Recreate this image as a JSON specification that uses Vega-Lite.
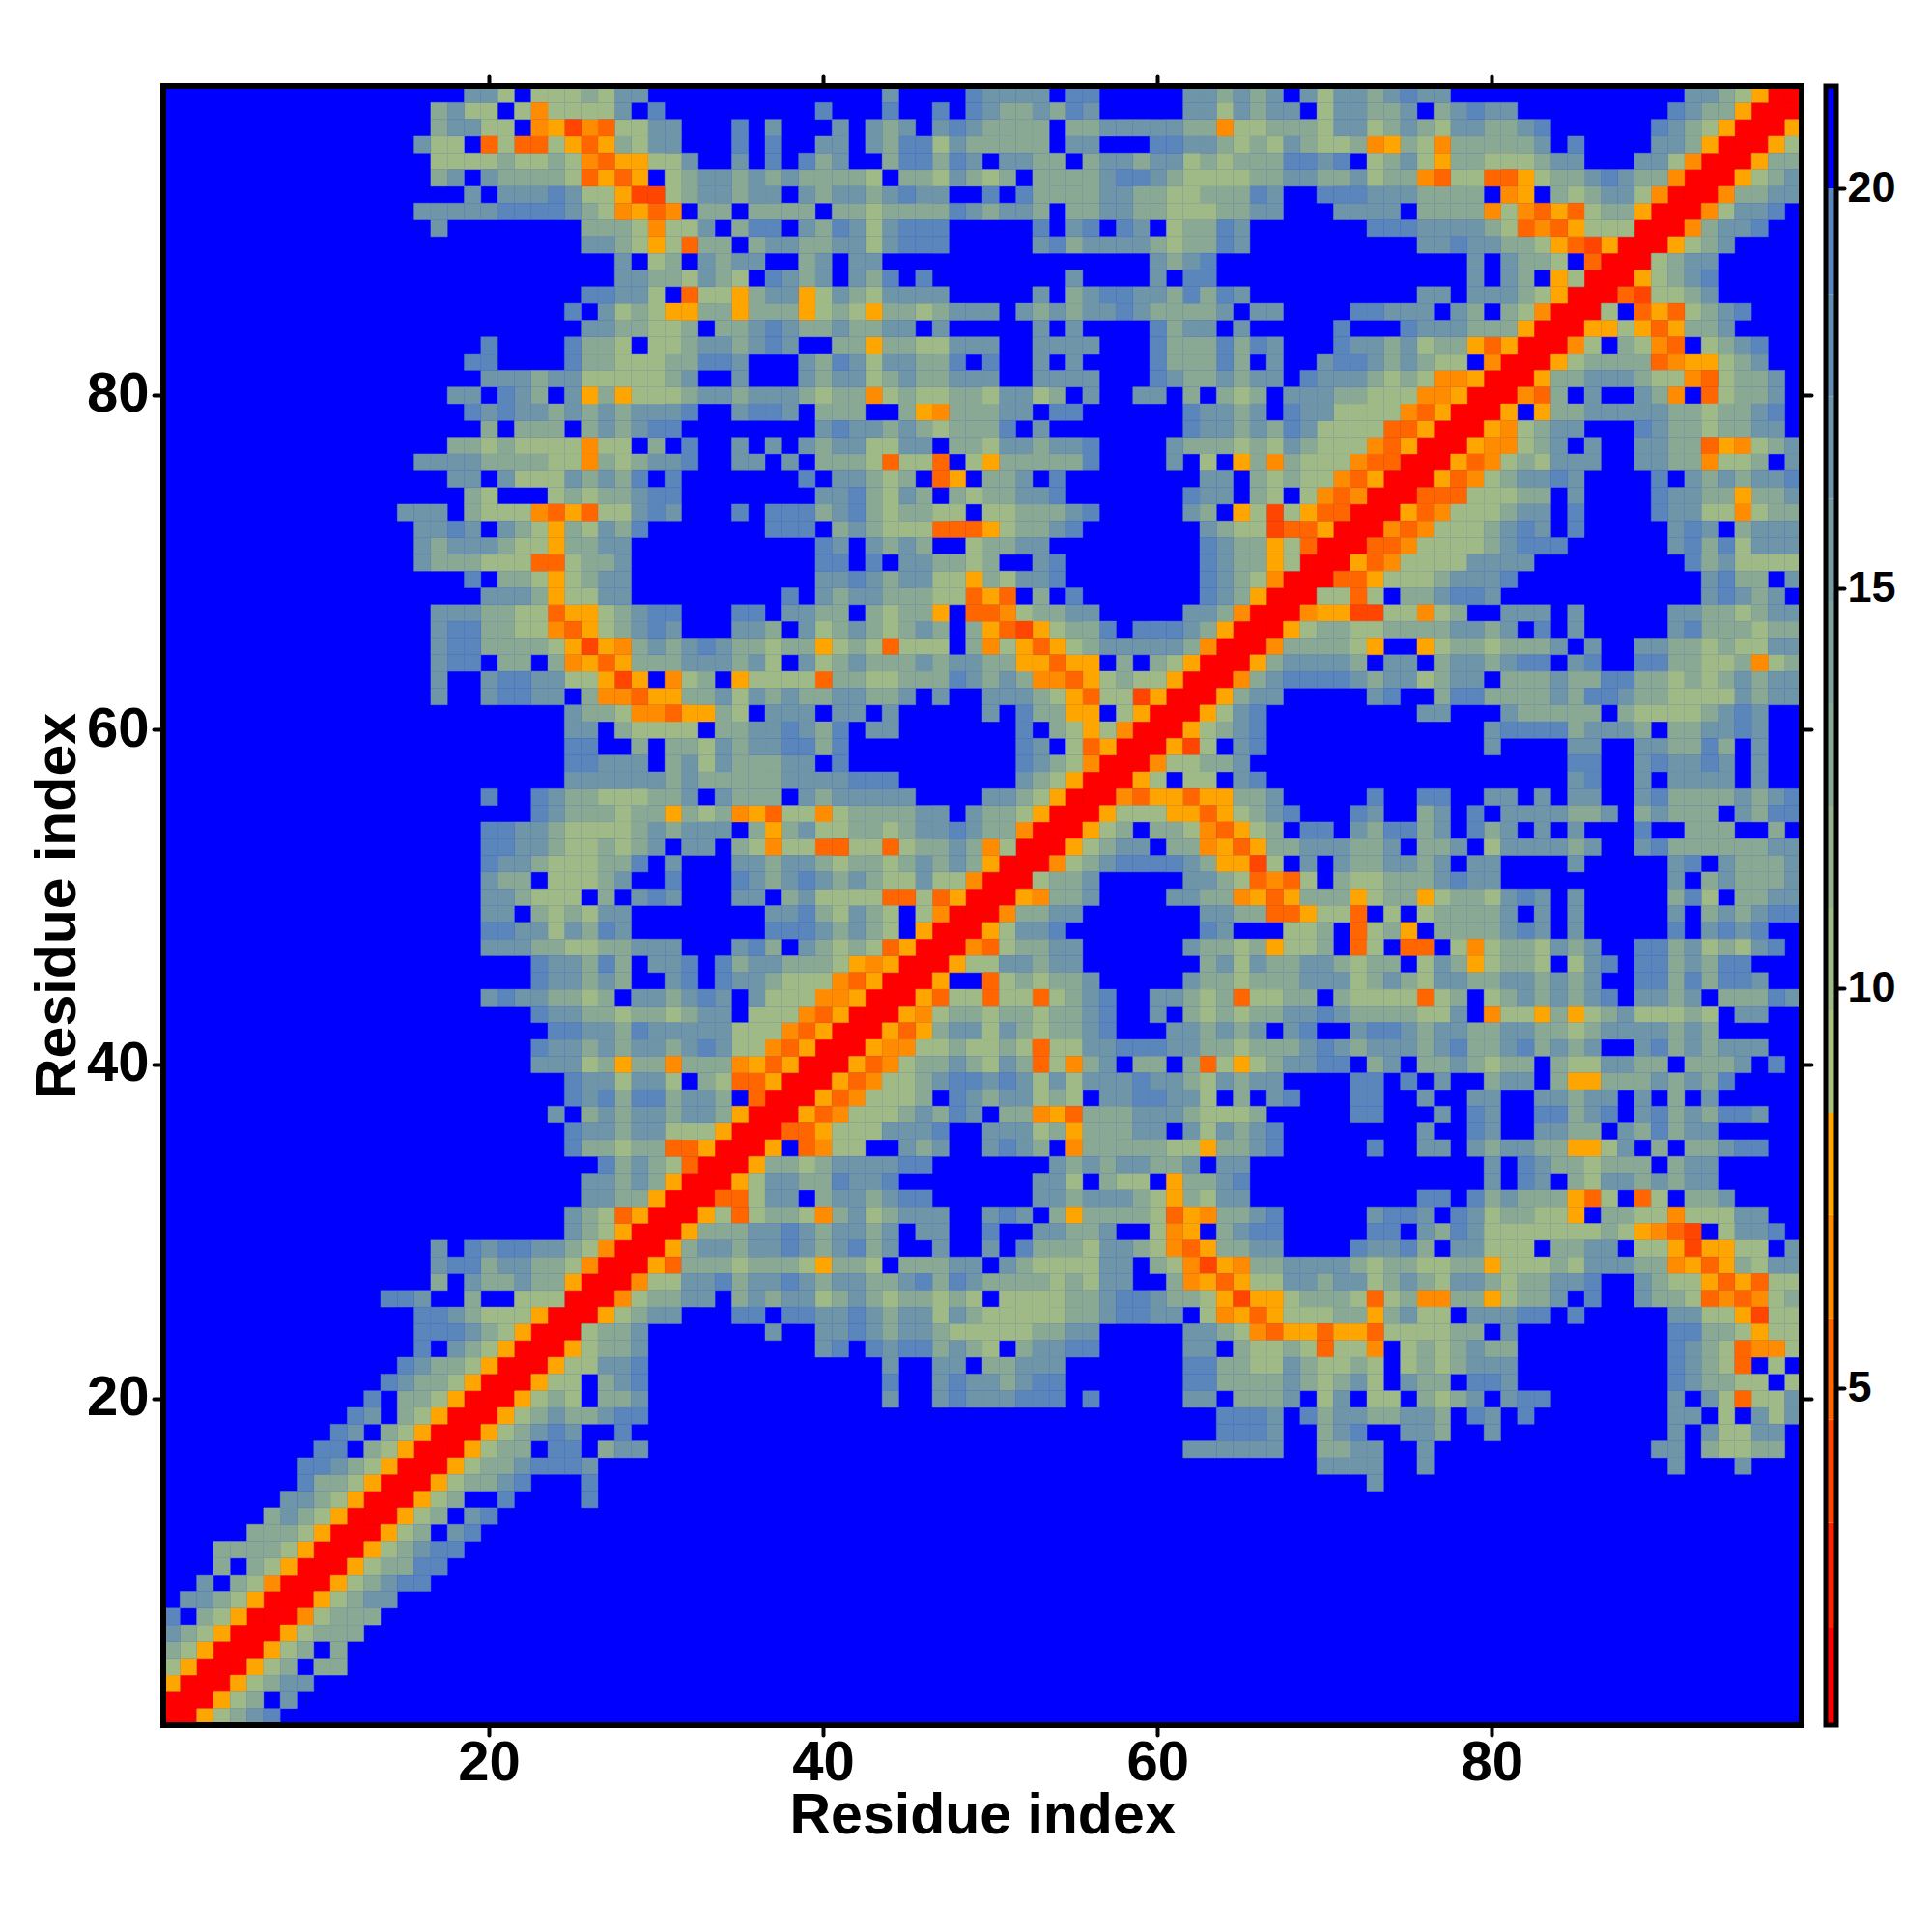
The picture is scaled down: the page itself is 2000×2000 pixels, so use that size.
{"$schema":"https://vega.github.io/schema/vega-lite/v6.json","background":"white","padding":{"left":30,"top":77,"right":0,"bottom":0},"config":{"font":"Liberation Sans","view":{"stroke":null},"axis":{"labelFontWeight":"bold","titleFontWeight":"bold","labelColor":"black","titleColor":"black","tickColor":"black","grid":false,"domain":false,"tickWidth":4,"tickCap":"round"}},"spacing":25,"bounds":"flush","hconcat":[{"width":1696,"height":1697,"view":{"fill":"#0000ff","stroke":null},"data":{"values":[
{"y":98,"d":1,"x":[98]},
{"y":97,"d":1,"x":[97,98]},
{"y":96,"d":1,"x":[96,97]},{"y":96,"d":8,"x":[98]},
{"y":95,"d":1,"x":[95,96]},{"y":95,"d":8,"x":[97]},{"y":95,"d":10,"x":[98]},
{"y":94,"d":1,"x":[94,95]},{"y":94,"d":8,"x":[96]},{"y":94,"d":13,"x":[97,98]},
{"y":93,"d":1,"x":[93,94]},{"y":93,"d":8,"x":[95]},{"y":93,"d":10,"x":[96]},{"y":93,"d":13,"x":[97]},{"y":93,"d":17,"x":[98]},
{"y":92,"d":1,"x":[92,93]},{"y":92,"d":6.5,"x":[94]},{"y":92,"d":13,"x":[95,96]},{"y":92,"d":17,"x":[97,98]},
{"y":91,"d":1,"x":[91,92]},{"y":91,"d":6.5,"x":[93]},{"y":91,"d":10,"x":[94]},{"y":91,"d":17,"x":[95,96]},{"y":91,"d":19,"x":[97]},
{"y":90,"d":1,"x":[90,91]},{"y":90,"d":6.5,"x":[92]},{"y":90,"d":13,"x":[93]},{"y":90,"d":17,"x":[94,95]},{"y":90,"d":19,"x":[96]},
{"y":89,"d":1,"x":[89,90]},{"y":89,"d":8,"x":[91]},{"y":89,"d":10,"x":[92]},{"y":89,"d":13,"x":[93]},{"y":89,"d":17,"x":[94]},
{"y":88,"d":1,"x":[88,89]},{"y":88,"d":10,"x":[90]},{"y":88,"d":13,"x":[91]},{"y":88,"d":17,"x":[92,93]},
{"y":87,"d":1,"x":[87,88]},{"y":87,"d":8,"x":[89]},{"y":87,"d":10,"x":[90]},{"y":87,"d":13,"x":[91]},{"y":87,"d":17,"x":[92]},{"y":87,"d":19,"x":[93]},
{"y":86,"d":1,"x":[86,87]},{"y":86,"d":5,"x":[88]},{"y":86,"d":4,"x":[89]},{"y":86,"d":10,"x":[90,91]},{"y":86,"d":13,"x":[92]},{"y":86,"d":17,"x":[93]},
{"y":85,"d":1,"x":[85,86]},{"y":85,"d":10,"x":[87,92]},{"y":85,"d":5,"x":[89,91]},{"y":85,"d":8,"x":[90]},{"y":85,"d":13,"x":[93]},{"y":85,"d":17,"x":[94]},{"y":85,"d":19,"x":[95]},
{"y":84,"d":1,"x":[84,85]},{"y":84,"d":8,"x":[86,87,89,91]},{"y":84,"d":10,"x":[88]},{"y":84,"d":5,"x":[90]},{"y":84,"d":13,"x":[92,93]},{"y":84,"d":17,"x":[94]},
{"y":83,"d":1,"x":[83,84]},{"y":83,"d":6.5,"x":[85,90]},{"y":83,"d":10,"x":[86,89,93]},{"y":83,"d":13,"x":[88,94]},{"y":83,"d":5,"x":[91]},{"y":83,"d":17,"x":[95]},{"y":83,"d":19,"x":[96]},
{"y":82,"d":1,"x":[82,83]},{"y":82,"d":8,"x":[84,92,93]},{"y":82,"d":10,"x":[85,94]},{"y":82,"d":13,"x":[86,87,88,89,95]},{"y":82,"d":5,"x":[90]},{"y":82,"d":6.5,"x":[91]},{"y":82,"d":17,"x":[96]},
{"y":81,"d":1,"x":[81,82]},{"y":81,"d":8,"x":[83]},{"y":81,"d":13,"x":[84,85,89,95,96]},{"y":81,"d":17,"x":[86,87,88,97]},{"y":81,"d":10,"x":[90,91,94]},{"y":81,"d":6.5,"x":[92]},{"y":81,"d":5,"x":[93]},
{"y":80,"d":1,"x":[80,81]},{"y":80,"d":6.5,"x":[82,91]},{"y":80,"d":5,"x":[83,93]},{"y":80,"d":13,"x":[84,90,95,96]},{"y":80,"d":17,"x":[86,89,97]},{"y":80,"d":10,"x":[94]},
{"y":79,"d":1,"x":[79,80]},{"y":79,"d":8,"x":[81,83]},{"y":79,"d":13,"x":[84,85,91,92,94,95]},{"y":79,"d":17,"x":[86,87,88,89,90,96]},{"y":79,"d":10,"x":[93]},{"y":79,"d":19,"x":[97]},
{"y":78,"d":1,"x":[78,79]},{"y":78,"d":8,"x":[80]},{"y":78,"d":6.5,"x":[81]},{"y":78,"d":10,"x":[82,93]},{"y":78,"d":13,"x":[83,91,92,94,95]},{"y":78,"d":17,"x":[84,85,90,96,97]},{"y":78,"d":19,"x":[89]},
{"y":77,"d":1,"x":[77,78]},{"y":77,"d":8,"x":[79,94]},{"y":77,"d":6.5,"x":[80,81,95]},{"y":77,"d":10,"x":[82,96]},{"y":77,"d":13,"x":[83,91,92,97]},{"y":77,"d":17,"x":[84,86,89,90,98]},{"y":77,"d":5,"x":[93]},
{"y":76,"d":1,"x":[76,77]},{"y":76,"d":8,"x":[78]},{"y":76,"d":5,"x":[79]},{"y":76,"d":6.5,"x":[80,93]},{"y":76,"d":10,"x":[81,83,94,95]},{"y":76,"d":13,"x":[82,91,92,96]},{"y":76,"d":17,"x":[84,85,86,89,90,98]},
{"y":75,"d":1,"x":[75,76]},{"y":75,"d":8,"x":[77]},{"y":75,"d":5,"x":[78]},{"y":75,"d":6.5,"x":[79]},{"y":75,"d":10,"x":[80]},{"y":75,"d":13,"x":[81,93,95]},{"y":75,"d":17,"x":[82,83,85,92,94,96,97]},{"y":75,"d":19,"x":[84,90,98]},
{"y":74,"d":1,"x":[74,75]},{"y":74,"d":5,"x":[76,77,78]},{"y":74,"d":10,"x":[79,80,81]},{"y":74,"d":13,"x":[82,83,93,94,96,97]},{"y":74,"d":17,"x":[85,91,92,98]},{"y":74,"d":19,"x":[90]},{"y":74,"d":8,"x":[95]},
{"y":73,"d":1,"x":[73,74]},{"y":73,"d":8,"x":[75]},{"y":73,"d":5,"x":[76]},{"y":73,"d":6.5,"x":[77,95]},{"y":73,"d":10,"x":[78,79,80,93,94,96]},{"y":73,"d":13,"x":[81,97,98]},{"y":73,"d":17,"x":[82,83,91,92]},{"y":73,"d":19,"x":[85,90]},
{"y":72,"d":1,"x":[72,73]},{"y":72,"d":6.5,"x":[74,76]},{"y":72,"d":5,"x":[75]},{"y":72,"d":10,"x":[77,78,79]},{"y":72,"d":13,"x":[80,95]},{"y":72,"d":17,"x":[81,83,91,93,96,97,98]},{"y":72,"d":19,"x":[82,85,92]},
{"y":71,"d":1,"x":[71,72]},{"y":71,"d":5,"x":[73,74]},{"y":71,"d":6.5,"x":[75]},{"y":71,"d":10,"x":[76,77,78,79,95]},{"y":71,"d":13,"x":[80,93]},{"y":71,"d":17,"x":[81,91,96,97,98]},{"y":71,"d":19,"x":[82,83,84,92,94]},
{"y":70,"d":1,"x":[70,71]},{"y":70,"d":8,"x":[72]},{"y":70,"d":5,"x":[73]},{"y":70,"d":6.5,"x":[74]},{"y":70,"d":10,"x":[75,76,77,78,95,96,97,98]},{"y":70,"d":17,"x":[79,80,81,82,94]},{"y":70,"d":19,"x":[92]},{"y":70,"d":13,"x":[93]},
{"y":69,"d":1,"x":[69,70]},{"y":69,"d":5,"x":[71,72]},{"y":69,"d":8,"x":[73]},{"y":69,"d":10,"x":[74,75,76]},{"y":69,"d":13,"x":[77,95,96]},{"y":69,"d":17,"x":[78,79,80,93,98]},{"y":69,"d":19,"x":[81,94]},
{"y":68,"d":1,"x":[68,69]},{"y":68,"d":10,"x":[70,71,73]},{"y":68,"d":5,"x":[72]},{"y":68,"d":13,"x":[75,76,96]},{"y":68,"d":17,"x":[77,80,93,95,97]},{"y":68,"d":19,"x":[78,79,94]},
{"y":67,"d":1,"x":[67,68]},{"y":67,"d":6.5,"x":[69,76]},{"y":67,"d":8,"x":[70,71]},{"y":67,"d":4,"x":[72,73]},{"y":67,"d":10,"x":[74,75,77,95]},{"y":67,"d":13,"x":[78,93,94,96]},{"y":67,"d":17,"x":[81,82,83,85,91,92,97,98]},
{"y":66,"d":1,"x":[66,67]},{"y":66,"d":8,"x":[68]},{"y":66,"d":10,"x":[69,72,73,96]},{"y":66,"d":13,"x":[70,71,74,75,76,77,80,93,94,95,97,98]},{"y":66,"d":17,"x":[78,79,81,85,91]},{"y":66,"d":19,"x":[83,92]},
{"y":65,"d":1,"x":[65,66]},{"y":65,"d":6.5,"x":[67]},{"y":65,"d":13,"x":[68,69,70,71,78,79,81,82,83,91,92,94]},{"y":65,"d":10,"x":[72,77,80,93,95,96]},{"y":65,"d":8,"x":[73,76]},{"y":65,"d":17,"x":[84,86,89,90,97,98]},
{"y":64,"d":1,"x":[64,65]},{"y":64,"d":8,"x":[66]},{"y":64,"d":13,"x":[67,72,77,80,91,92,95,98]},{"y":64,"d":17,"x":[68,69,70,71,74,75,78,79,81,85]},{"y":64,"d":19,"x":[82,83,86,89,90]},{"y":64,"d":10,"x":[93,94,97]},{"y":64,"d":6.5,"x":[96]},
{"y":63,"d":1,"x":[63,64]},{"y":63,"d":6.5,"x":[65]},{"y":63,"d":13,"x":[66,73,77,81,82,83,85,86,89,90,92,94,96]},{"y":63,"d":17,"x":[67,72,74,75,78,79,84,95,97,98]},{"y":63,"d":19,"x":[68,69,70,71,87,88]},{"y":63,"d":10,"x":[76,91,93]},
{"y":62,"d":1,"x":[62,63]},{"y":62,"d":8,"x":[64]},{"y":62,"d":13,"x":[65,77,80,81,82,83,85,89,90,96]},{"y":62,"d":17,"x":[66,67,73,84,88,95,97,98]},{"y":62,"d":19,"x":[74,78,79,86,87]},{"y":62,"d":10,"x":[91,92,93,94]},
{"y":61,"d":1,"x":[61,62]},{"y":61,"d":8,"x":[63]},{"y":61,"d":10,"x":[64,89,90,91,92]},{"y":61,"d":17,"x":[65,76,77,81,94,96]},{"y":61,"d":19,"x":[66,95]},{"y":61,"d":13,"x":[82,83,84,85,86,88,93]},
{"y":60,"d":1,"x":[60,61]},{"y":60,"d":8,"x":[62]},{"y":60,"d":10,"x":[63]},{"y":60,"d":13,"x":[64,85,89,91,92]},{"y":60,"d":17,"x":[65,80,86,87,88,93,94,96]},{"y":60,"d":19,"x":[66,81,82,83,84,95]},
{"y":59,"d":1,"x":[59,60]},{"y":59,"d":8,"x":[61]},{"y":59,"d":4,"x":[62]},{"y":59,"d":10,"x":[63]},{"y":59,"d":17,"x":[65,80,85,86,89,90,96]},{"y":59,"d":19,"x":[66,93]},{"y":59,"d":13,"x":[91,92,94]},
{"y":58,"d":1,"x":[58,59]},{"y":58,"d":6.5,"x":[60]},{"y":58,"d":10,"x":[61,62]},{"y":58,"d":13,"x":[63,64]},{"y":58,"d":17,"x":[65,89,91,92,94,96]},{"y":58,"d":19,"x":[85,86,90,93]},
{"y":57,"d":1,"x":[57,58]},{"y":57,"d":8,"x":[59]},{"y":57,"d":10,"x":[60,62,63]},{"y":57,"d":17,"x":[65,85,89,91,92,93,94,96]},{"y":57,"d":19,"x":[66,86]},
{"y":56,"d":1,"x":[56,57]},{"y":56,"d":6.5,"x":[58]},{"y":56,"d":5,"x":[59,62]},{"y":56,"d":8,"x":[60,61,63,64]},{"y":56,"d":13,"x":[65,66,91,92,93,94,96]},{"y":56,"d":17,"x":[67,80,81,83,85,86,89,95,97]},{"y":56,"d":19,"x":[73,76,77,90,98]},
{"y":55,"d":1,"x":[55,56]},{"y":55,"d":8,"x":[57,61,62,64]},{"y":55,"d":10,"x":[58,59,60,65]},{"y":55,"d":5,"x":[63]},{"y":55,"d":13,"x":[66,76,85,86,89,91,92,93,96]},{"y":55,"d":17,"x":[67,73,77,81,82,83,84,87,90,95]},{"y":55,"d":19,"x":[68,72,79,97,98]},
{"y":54,"d":1,"x":[54,55]},{"y":54,"d":8,"x":[56,65]},{"y":54,"d":10,"x":[57,62,66]},{"y":54,"d":13,"x":[58,60,61,67,73,76,80,92,93,94,97]},{"y":54,"d":6.5,"x":[63]},{"y":54,"d":5,"x":[64]},{"y":54,"d":17,"x":[72,77,81,83,85]},{"y":54,"d":19,"x":[69,70,74,75,79,89]},
{"y":53,"d":1,"x":[53,54]},{"y":53,"d":8,"x":[55,64,66]},{"y":53,"d":10,"x":[56,80]},{"y":53,"d":13,"x":[57,61,62,67,68,72,73,76,77,85,91,92,93,94,95,96]},{"y":53,"d":17,"x":[58,59,69,70,71,74,78,81,82,83,84,86,89,97,98]},{"y":53,"d":6.5,"x":[63]},{"y":53,"d":5,"x":[65]},{"y":53,"d":19,"x":[90]},
{"y":52,"d":1,"x":[52,53]},{"y":52,"d":6.5,"x":[54]},{"y":52,"d":10,"x":[55,67]},{"y":52,"d":13,"x":[56,63,72,73,76,95,96,97]},{"y":52,"d":17,"x":[57,62,69,71,74,75,77,79,80,85,91,94,98]},{"y":52,"d":19,"x":[58,59,60,61,92]},{"y":52,"d":8,"x":[64,65]},{"y":52,"d":4,"x":[66]},
{"y":51,"d":1,"x":[51,52]},{"y":51,"d":10,"x":[53,65,69,72,73]},{"y":51,"d":13,"x":[54,55,64,71,74,75,76,93,95,96,97]},{"y":51,"d":17,"x":[56,62,63,77,79,80,91,94,98]},{"y":51,"d":5,"x":[66,68]},{"y":51,"d":6.5,"x":[67]},{"y":51,"d":19,"x":[78]},
{"y":50,"d":1,"x":[50,51]},{"y":50,"d":8,"x":[52,66,68,72,76]},{"y":50,"d":6.5,"x":[53,65]},{"y":50,"d":13,"x":[54,55,63,64,69,70,71,74,75,78,79,91,95,96]},{"y":50,"d":17,"x":[56,61,62,81,83,85,97,98]},{"y":50,"d":5,"x":[67]},{"y":50,"d":10,"x":[73,77,80,93]},{"y":50,"d":19,"x":[82,92]},
{"y":49,"d":1,"x":[49,50]},{"y":49,"d":6.5,"x":[51]},{"y":49,"d":13,"x":[52,53,65,66,77,78,79,80,93,95]},{"y":49,"d":17,"x":[54,55,63,64,81,83,85,91,94,96]},{"y":49,"d":5,"x":[67,68,72]},{"y":49,"d":8,"x":[69]},{"y":49,"d":10,"x":[70,71,74,76]},{"y":49,"d":19,"x":[97,98]},
{"y":48,"d":1,"x":[48,49]},{"y":48,"d":8,"x":[50,75]},{"y":48,"d":10,"x":[51,68,69,73]},{"y":48,"d":13,"x":[70,74,77,78,79,80]},{"y":48,"d":17,"x":[52,53,64,81,83,85,93,95]},{"y":48,"d":19,"x":[54,63,82,91,94,96]},{"y":48,"d":5,"x":[72]},
{"y":47,"d":1,"x":[47,48]},{"y":47,"d":6.5,"x":[49,79]},{"y":47,"d":5,"x":[50,72,75,76]},{"y":47,"d":10,"x":[51,65,68,69,73,78,80,83,93,95]},{"y":47,"d":13,"x":[52,53,63,64,66,70,81,82,85,91,94]},{"y":47,"d":17,"x":[54,55,62,84,86,92,96]},{"y":47,"d":8,"x":[67]},{"y":47,"d":19,"x":[89,90,97]},
{"y":46,"d":1,"x":[46,47]},{"y":46,"d":8,"x":[48,79]},{"y":46,"d":10,"x":[49,50,65,72,76,80,83,85]},{"y":46,"d":17,"x":[51,52,54,55,64,66,69,70,77,86,92]},{"y":46,"d":13,"x":[53,63,67,68,71,73,74,78,81,82,91,93]},{"y":46,"d":19,"x":[87,89,90,94,95]},
{"y":45,"d":1,"x":[45,46]},{"y":45,"d":8,"x":[47]},{"y":45,"d":5,"x":[50]},{"y":45,"d":10,"x":[51,53,65,72,76]},{"y":45,"d":13,"x":[52,54,55,63,64,66,67,68,73,75,79,80,83,85,91,93]},{"y":45,"d":17,"x":[56,62,69,70,71,74,77,78,81,82,84,86,96]},{"y":45,"d":19,"x":[89,90,92,94,95]},
{"y":44,"d":1,"x":[44,45]},{"y":44,"d":8,"x":[46]},{"y":44,"d":5,"x":[47,50,53,65,76]},{"y":44,"d":10,"x":[48,49,51,52,54,63,66,67,72,73,74,75,77,80]},{"y":44,"d":13,"x":[55,62,64,68,69,71,78,81,83,85,91,94,95,96]},{"y":44,"d":17,"x":[56,60,61,82,84,86,89,90,92,98]},{"y":44,"d":19,"x":[57,87,97]},
{"y":43,"d":1,"x":[43,44]},{"y":43,"d":8,"x":[45,83,85]},{"y":43,"d":6.5,"x":[46,80]},{"y":43,"d":10,"x":[47,50,53,63,65,76,77,81,82,86,89,90,91,93]},{"y":43,"d":13,"x":[48,49,51,52,54,55,62,64,66,67,72,73,74,75,84,87,92]},{"y":43,"d":17,"x":[56,60,68,69,71,78,88,95,96]},{"y":43,"d":19,"x":[57,70]},
{"y":42,"d":1,"x":[42,43]},{"y":42,"d":8,"x":[44,46]},{"y":42,"d":5,"x":[45]},{"y":42,"d":13,"x":[47,52,54,55,63,65,76,79,80,83,84,86,91,93]},{"y":42,"d":17,"x":[48,49,51,56,61,62,64,66,68,72,75,77,78,81,82,87,88,89,90,92]},{"y":42,"d":10,"x":[50,53,85]},{"y":42,"d":19,"x":[57,69,73,74]},
{"y":41,"d":1,"x":[41,42]},{"y":41,"d":8,"x":[43]},{"y":41,"d":6.5,"x":[44,45]},{"y":41,"d":10,"x":[46,47,49,50,52,54,55,65]},{"y":41,"d":13,"x":[48,51,63,64,66,67,68,72,76,79,80,83,85,91,93]},{"y":41,"d":17,"x":[56,57,61,62,69,71,73,74,75,77,81,84,86,89,92,94,95,96]},{"y":41,"d":19,"x":[58,59,60,70,78,82,90]},{"y":41,"d":5,"x":[53]},
{"y":40,"d":1,"x":[40,41]},{"y":40,"d":8,"x":[42,65]},{"y":40,"d":5,"x":[43,53,63]},{"y":40,"d":6.5,"x":[44,55]},{"y":40,"d":10,"x":[45,50,54,64,66,80,85,86]},{"y":40,"d":13,"x":[46,47,49,52,56,59,60,62,67,73,76,77,79,81,82,84,89,90,92,93,94]},{"y":40,"d":17,"x":[48,51,57,68,69,74,78,87,88,95]},{"y":40,"d":19,"x":[70,71,97]},
{"y":39,"d":1,"x":[39,40]},{"y":39,"d":8,"x":[41,85,86]},{"y":39,"d":5,"x":[42]},{"y":39,"d":6.5,"x":[43]},{"y":39,"d":10,"x":[44,45,53,55,63]},{"y":39,"d":13,"x":[46,62,65,80,84,87,88,89,91,93]},{"y":39,"d":17,"x":[47,50,52,54,56,57,58,60,61,64,66,67,77,81,82,90,92]},{"y":39,"d":19,"x":[48,49,51,59,72,73,75,94]},
{"y":38,"d":1,"x":[38,39]},{"y":38,"d":8,"x":[40]},{"y":38,"d":5,"x":[41]},{"y":38,"d":6.5,"x":[42]},{"y":38,"d":10,"x":[43,44,45,53,55,63]},{"y":38,"d":13,"x":[46,50,54,65,85,91]},{"y":38,"d":17,"x":[49,51,52,57,58,61,62,67,76,79,80,83,84,86,87,89,93]},{"y":38,"d":19,"x":[48,59,60,68,72,73]},
{"y":37,"d":1,"x":[37,38]},{"y":37,"d":8,"x":[39,54]},{"y":37,"d":5,"x":[40,55]},{"y":37,"d":6.5,"x":[41,53]},{"y":37,"d":10,"x":[42,43,44,63,64,65]},{"y":37,"d":13,"x":[45,47,51,52,56,57,58,62,66,85,91,93]},{"y":37,"d":17,"x":[46,49,59,60,61,77,80,86,89,92,96]},{"y":37,"d":19,"x":[48,72,73,79,83,84,87,90,94,95]},
{"y":36,"d":1,"x":[36,37]},{"y":36,"d":5,"x":[38,39]},{"y":36,"d":8,"x":[40,55]},{"y":36,"d":10,"x":[41,42,43,53,63]},{"y":36,"d":13,"x":[54,56,57,58,65,85,86,89,91]},{"y":36,"d":17,"x":[44,45,46,50,51,52,59,60,62,64,66,76,80,83,84,88,92,93]},{"y":36,"d":19,"x":[47,67,79,90]},
{"y":35,"d":1,"x":[35,36]},{"y":35,"d":8,"x":[37,63,85,86]},{"y":35,"d":5,"x":[39]},{"y":35,"d":6.5,"x":[40,55]},{"y":35,"d":10,"x":[41,42,61,62,87]},{"y":35,"d":13,"x":[46,53,56,57,58,59,60,64,65,80,83,84,90,92,93]},{"y":35,"d":17,"x":[45,47,50,52,66,76,77,79,81,82,88,94]},{"y":35,"d":19,"x":[51,67,73,95,96]},
{"y":34,"d":1,"x":[34,35]},{"y":34,"d":8,"x":[36]},{"y":34,"d":13,"x":[37,38,40,55,57,60,61,84,85,87,88,89,91]},{"y":34,"d":10,"x":[39,86]},{"y":34,"d":17,"x":[41,42,43,44,54,56,58,59,62,64,65,80,83,92,93]},{"y":34,"d":19,"x":[45,46,82]},
{"y":33,"d":1,"x":[33,34]},{"y":33,"d":8,"x":[35,61]},{"y":33,"d":10,"x":[36,55,58,59,86]},{"y":33,"d":17,"x":[37,38,42,43,53,54,64,80,83,87,88,90,92,93]},{"y":33,"d":13,"x":[39,40,57,62,63,85,89,91]},{"y":33,"d":19,"x":[41,44,65,82]},
{"y":32,"d":1,"x":[32,33]},{"y":32,"d":5,"x":[34,35,86,89]},{"y":32,"d":10,"x":[36,60,63,87,90]},{"y":32,"d":17,"x":[37,38,41,42,44,53,54,56,57,58,64,65,81,94]},{"y":32,"d":13,"x":[40,43,55,59,62,80,82,83,84,92,93]},{"y":32,"d":8,"x":[61,85]},{"y":32,"d":19,"x":[45,46,76,77,79]},
{"y":31,"d":1,"x":[31,32]},{"y":31,"d":8,"x":[33,55,62,85]},{"y":31,"d":10,"x":[34,36,39,43,60,80,83,84,89,90,92,93,94]},{"y":31,"d":5,"x":[35,61]},{"y":31,"d":13,"x":[37,38,41,44,54,56,57,58,59,64,65,81,82,87,88]},{"y":31,"d":6.5,"x":[40,63,91]},{"y":31,"d":17,"x":[42,45,46,47,50,52,66,73,76,79,95,96]},{"y":31,"d":19,"x":[51,67,74,75,78]},
{"y":30,"d":1,"x":[30,31]},{"y":30,"d":8,"x":[32,62,89]},{"y":30,"d":13,"x":[33,34,35,40,43,55,56,64,77,87]},{"y":30,"d":17,"x":[36,37,39,41,42,44,46,47,53,54,57,65,76,79,95,96]},{"y":30,"d":19,"x":[38,50,66,67,73,74,78,97]},{"y":30,"d":10,"x":[60,80,81,82,83,84,85,86,88,94]},{"y":30,"d":6.5,"x":[61,90]},{"y":30,"d":5,"x":[91]},{"y":30,"d":4,"x":[92]},
{"y":29,"d":1,"x":[29,30]},{"y":29,"d":8,"x":[31,63,91,93,94]},{"y":29,"d":13,"x":[32,35,40,43,53,54,55,59,64,65,76,84,85]},{"y":29,"d":17,"x":[33,34,36,37,39,41,44,47,50,57,58,66,67,73,74,78,79,86,87,98]},{"y":29,"d":19,"x":[38,42,52,72,75]},{"y":29,"d":10,"x":[56,60,80,81,82,89,90,95,96]},{"y":29,"d":6.5,"x":[61]},{"y":29,"d":5,"x":[62]},{"y":29,"d":4,"x":[92]},
{"y":28,"d":1,"x":[28,29]},{"y":28,"d":8,"x":[30,40,64,80,92,94]},{"y":28,"d":5,"x":[31,93]},{"y":28,"d":13,"x":[32,33,34,36,37,38,41,42,45,46,47,52,60,66,67,72,74,75,78,79,84,89,90,95]},{"y":28,"d":10,"x":[35,39,43,53,54,55,56,61,73,76,77,81,82,83,85,96]},{"y":28,"d":17,"x":[48,49,51,57,58,68,69,70,71,86,87,88,97,98]},{"y":28,"d":6.5,"x":[62,65,91]},{"y":28,"d":4,"x":[63]},
{"y":27,"d":1,"x":[27,28]},{"y":27,"d":6.5,"x":[29,62]},{"y":27,"d":10,"x":[30,31,54,56,66,67,73,77,81,91,92,97,98]},{"y":27,"d":13,"x":[35,40,43,44,47,50,51,52,53,55,61,70,74,76,80,82,83,90]},{"y":27,"d":17,"x":[32,33,36,37,39,41,42,45,49,57,58,68,69,71,72,75,78,79,84,85,89]},{"y":27,"d":19,"x":[34,38,46,48,86]},{"y":27,"d":8,"x":[63,65,93,95]},{"y":27,"d":5,"x":[64,94,96]},
{"y":26,"d":1,"x":[26,27]},{"y":26,"d":6.5,"x":[28,76,77,94,96]},{"y":26,"d":10,"x":[29,40,44,47,49,51,52,53,54,63,68,72,74,81,92,97]},{"y":26,"d":13,"x":[30,31,35,37,41,43,45,46,48,55,56,61,62,69,70,71,75,78,79,82,83,90,91,98]},{"y":26,"d":17,"x":[32,33,36,38,39,42,57,60,84,89]},{"y":26,"d":19,"x":[58,59,86]},{"y":26,"d":8,"x":[64,66,67,80]},{"y":26,"d":4,"x":[65]},{"y":26,"d":5,"x":[73,93,95]},
{"y":25,"d":1,"x":[25,26]},{"y":25,"d":8,"x":[27,65,67,73,95]},{"y":25,"d":10,"x":[28,47,50,51,52,53,54,63,68,69,70,76,77,93,94,97,98]},{"y":25,"d":13,"x":[29,44,49,55,56,71,72,74]},{"y":25,"d":17,"x":[30,31,40,41,43,45,46,48,57,60,61,75,79,80,81,91,92]},{"y":25,"d":19,"x":[35,36,38,39,42,58,59,82,83,85]},{"y":25,"d":6.5,"x":[64]},{"y":25,"d":5,"x":[66]},{"y":25,"d":4,"x":[96]},
{"y":24,"d":1,"x":[24,25]},{"y":24,"d":10,"x":[26,48,49,50,51,52,65,74,75,76,77,95,97,98]},{"y":24,"d":13,"x":[27,28,44,47,53,54,64,78,79,93,94]},{"y":24,"d":17,"x":[29,37,40,41,43,45,46,55,56,62,63,81]},{"y":24,"d":19,"x":[42,91,92]},{"y":24,"d":6.5,"x":[66]},{"y":24,"d":5,"x":[67,70,73]},{"y":24,"d":8,"x":[68,69,71,72,96]},
{"y":23,"d":1,"x":[23,24]},{"y":23,"d":8,"x":[25]},{"y":23,"d":10,"x":[26,50,66,67,69,71,72,75,77,94,98]},{"y":23,"d":13,"x":[27,28,47,49,52,65,68,76,78,80,81,93]},{"y":23,"d":17,"x":[29,40,44,48,53,54,62,63,79,92]},{"y":23,"d":19,"x":[41,43,45,46,55,56,91]},{"y":23,"d":5,"x":[70,95]},{"y":23,"d":6.5,"x":[73,96,97]},
{"y":22,"d":1,"x":[22,23]},{"y":22,"d":8,"x":[24]},{"y":22,"d":10,"x":[25,26,66,67,70,71,73,75,77,94,97]},{"y":22,"d":13,"x":[50,51,64,65,69,72,76,78,93]},{"y":22,"d":17,"x":[27,28,44,47,48,52,53,54,68,79,80,81,92]},{"y":22,"d":19,"x":[29,62,63,91]},{"y":22,"d":5,"x":[95]},
{"y":21,"d":1,"x":[21,22]},{"y":21,"d":8,"x":[23]},{"y":21,"d":10,"x":[24,25,70,73,95,96,98]},{"y":21,"d":13,"x":[27,51,64,65,66,67,69,71,76,77,93,94]},{"y":21,"d":17,"x":[28,47,49,50,52,68,72,75,81,92]},{"y":21,"d":19,"x":[29,44,48,53,54,62,63,79,80,91]},
{"y":20,"d":1,"x":[20,21]},{"y":20,"d":8,"x":[22]},{"y":20,"d":10,"x":[23,25,70,73,74,77,94,96,97]},{"y":20,"d":13,"x":[24,27,28,65,66,67,76,78]},{"y":20,"d":17,"x":[29,44,47,49,50,51,62,63,68,71,79,81,91,93,98]},{"y":20,"d":19,"x":[48,52,53,54,56,82,83]},{"y":20,"d":5,"x":[95]},
{"y":19,"d":1,"x":[19,20]},{"y":19,"d":8,"x":[21]},{"y":19,"d":10,"x":[22,94,97]},{"y":19,"d":13,"x":[23,25,26,70,73,74,77]},{"y":19,"d":17,"x":[24,27,67,71,72,75,76,80,91,92,96,98]},{"y":19,"d":19,"x":[28,29,64,65,66,69,79,82]},
{"y":18,"d":1,"x":[18,19]},{"y":18,"d":8,"x":[20]},{"y":18,"d":10,"x":[21,94,95]},{"y":18,"d":13,"x":[22,70,77]},{"y":18,"d":17,"x":[23,25,67,71,75,76,80,91,93,96,97]},{"y":18,"d":19,"x":[24,28,64,65,66,72]},
{"y":17,"d":1,"x":[17,18]},{"y":17,"d":8,"x":[19]},{"y":17,"d":10,"x":[20,94,95]},{"y":17,"d":13,"x":[21,22,27,70,71,93,96,97]},{"y":17,"d":17,"x":[28,29,62,63,64,65,66,67,72,73,76,90,91]},{"y":17,"d":19,"x":[24,25]},
{"y":16,"d":1,"x":[16,17]},{"y":16,"d":8,"x":[18]},{"y":16,"d":10,"x":[19]},{"y":16,"d":13,"x":[20,21]},{"y":16,"d":17,"x":[22,26,70,71,72,73,76,91,95]},{"y":16,"d":19,"x":[23,24,25]},
{"y":15,"d":1,"x":[15,16]},{"y":15,"d":8,"x":[17]},{"y":15,"d":10,"x":[18]},{"y":15,"d":13,"x":[19,20]},{"y":15,"d":17,"x":[21,73]},{"y":15,"d":19,"x":[22,26]},
{"y":14,"d":1,"x":[14,15]},{"y":14,"d":8,"x":[16]},{"y":14,"d":10,"x":[17]},{"y":14,"d":13,"x":[18]},{"y":14,"d":19,"x":[21,26]},
{"y":13,"d":1,"x":[13,14]},{"y":13,"d":8,"x":[15]},{"y":13,"d":10,"x":[16]},{"y":13,"d":13,"x":[17]},{"y":13,"d":17,"x":[19]},{"y":13,"d":19,"x":[20]},
{"y":12,"d":1,"x":[12,13]},{"y":12,"d":8,"x":[14]},{"y":12,"d":10,"x":[15]},{"y":12,"d":13,"x":[16]},{"y":12,"d":17,"x":[18]},{"y":12,"d":19,"x":[19]},
{"y":11,"d":1,"x":[11,12]},{"y":11,"d":8,"x":[13]},{"y":11,"d":10,"x":[14]},{"y":11,"d":13,"x":[15]},{"y":11,"d":17,"x":[16]},{"y":11,"d":19,"x":[17,18]},
{"y":10,"d":1,"x":[10,11]},{"y":10,"d":8,"x":[12]},{"y":10,"d":10,"x":[13]},{"y":10,"d":13,"x":[14,15]},{"y":10,"d":19,"x":[16,17]},
{"y":9,"d":1,"x":[9,10]},{"y":9,"d":8,"x":[11]},{"y":9,"d":10,"x":[12]},{"y":9,"d":13,"x":[13]},{"y":9,"d":17,"x":[14]},{"y":9,"d":19,"x":[15,16]},
{"y":8,"d":1,"x":[8,9]},{"y":8,"d":8,"x":[10]},{"y":8,"d":10,"x":[11]},{"y":8,"d":13,"x":[12]},{"y":8,"d":17,"x":[13,14]},
{"y":7,"d":1,"x":[7,8]},{"y":7,"d":6.5,"x":[9]},{"y":7,"d":10,"x":[10]},{"y":7,"d":13,"x":[11,12,13]},
{"y":6,"d":1,"x":[6,7]},{"y":6,"d":8,"x":[8]},{"y":6,"d":10,"x":[9]},{"y":6,"d":13,"x":[10,11,12]},
{"y":5,"d":1,"x":[5,6]},{"y":5,"d":8,"x":[7]},{"y":5,"d":10,"x":[8]},{"y":5,"d":13,"x":[9,11]},
{"y":4,"d":1,"x":[4,5]},{"y":4,"d":8,"x":[6]},{"y":4,"d":10,"x":[7]},{"y":4,"d":13,"x":[8,10,11]},
{"y":3,"d":1,"x":[3,4]},{"y":3,"d":8,"x":[5]},{"y":3,"d":10,"x":[6]},{"y":3,"d":13,"x":[7]},{"y":3,"d":17,"x":[8,9]},
{"y":2,"d":1,"x":[2,3]},{"y":2,"d":8,"x":[4]},{"y":2,"d":10,"x":[5]},{"y":2,"d":13,"x":[6]},{"y":2,"d":17,"x":[8]},
{"y":1,"d":1,"x":[1,2]},{"y":1,"d":8,"x":[3]},{"y":1,"d":10,"x":[4]},{"y":1,"d":13,"x":[5]},{"y":1,"d":17,"x":[6]},{"y":1,"d":19,"x":[7]}
]},"transform":[{"flatten":["x"]}],"resolve":{"axis":{"x":"independent","y":"independent"}},"layer":[
{"mark":{"type":"rect","strokeWidth":0.4},"encoding":{
"x":{"field":"x","type":"ordinal","scale":{"paddingInner":0,"paddingOuter":0,"domain":[1,2,3,4,5,6,7,8,9,10,11,12,13,14,15,16,17,18,19,20,21,22,23,24,25,26,27,28,29,30,31,32,33,34,35,36,37,38,39,40,41,42,43,44,45,46,47,48,49,50,51,52,53,54,55,56,57,58,59,60,61,62,63,64,65,66,67,68,69,70,71,72,73,74,75,76,77,78,79,80,81,82,83,84,85,86,87,88,89,90,91,92,93,94,95,96,97,98]},"axis":{"orient":"bottom","values":[20,40,60,80],"labelAngle":0,"tickSize":10,"labelFontSize":58,"labelPadding":0,"title":"Residue index","titleFontSize":59,"titlePadding":-4}},
"y":{"field":"y","type":"ordinal","scale":{"paddingInner":0,"paddingOuter":0,"domain":[98,97,96,95,94,93,92,91,90,89,88,87,86,85,84,83,82,81,80,79,78,77,76,75,74,73,72,71,70,69,68,67,66,65,64,63,62,61,60,59,58,57,56,55,54,53,52,51,50,49,48,47,46,45,44,43,42,41,40,39,38,37,36,35,34,33,32,31,30,29,28,27,26,25,24,23,22,21,20,19,18,17,16,15,14,13,12,11,10,9,8,7,6,5,4,3,2,1]},"axis":{"orient":"left","values":[20,40,60,80],"tickSize":10,"labelFontSize":58,"labelPadding":5,"title":"Residue index","titleFontSize":59,"titlePadding":0}},
"color":{"field":"d","type":"quantitative","legend":null,"scale":{"type":"threshold","domain":[2,3.31,4.6,5.87,7.16,8.44,9.72,11,12.28,13.56,14.84,16.12,17.4,18.68,20],"range":["#ff0000","#ff2200","#ff4500","#ff6600","#ff8c00","#ffa500","#a9c080","#a0ba87","#95b18e","#8aa994","#80a19c","#789ba2","#6f95a9","#658db2","#5a86bb","#0000ff"]}},
"stroke":{"field":"d","type":"quantitative","legend":null,"scale":{"type":"threshold","domain":[2,3.31,4.6,5.87,7.16,8.44,9.72,11,12.28,13.56,14.84,16.12,17.4,18.68,20],"range":["#ff0000","#ff2200","#ff4500","#ff6600","#ff8c00","#ffa500","#a9c080","#a0ba87","#95b18e","#8aa994","#80a19c","#789ba2","#6f95a9","#658db2","#5a86bb","#0000ff"]}}}},
{"mark":{"type":"rect","strokeWidth":0.4},"encoding":{
"x":{"field":"y","type":"ordinal","axis":{"orient":"top","values":[20,40,60,80],"labels":false,"tickSize":10,"title":null}},
"y":{"field":"x","type":"ordinal","axis":{"orient":"right","values":[20,40,60,80],"labels":false,"tickSize":10,"title":null}},
"color":{"field":"d","type":"quantitative","legend":null,"scale":{"type":"threshold","domain":[2,3.31,4.6,5.87,7.16,8.44,9.72,11,12.28,13.56,14.84,16.12,17.4,18.68,20],"range":["#ff0000","#ff2200","#ff4500","#ff6600","#ff8c00","#ffa500","#a9c080","#a0ba87","#95b18e","#8aa994","#80a19c","#789ba2","#6f95a9","#658db2","#5a86bb","#0000ff"]}},
"stroke":{"field":"d","type":"quantitative","legend":null,"scale":{"type":"threshold","domain":[2,3.31,4.6,5.87,7.16,8.44,9.72,11,12.28,13.56,14.84,16.12,17.4,18.68,20],"range":["#ff0000","#ff2200","#ff4500","#ff6600","#ff8c00","#ffa500","#a9c080","#a0ba87","#95b18e","#8aa994","#80a19c","#789ba2","#6f95a9","#658db2","#5a86bb","#0000ff"]}}}},
{"data":{"values":[{"frame":1}]},"mark":{"type":"rect","fill":null,"stroke":"black","strokeWidth":6,"clip":false},"encoding":{}}
]},
{"width":11,"height":1697,"view":{"stroke":null},"data":{"values":[{"lo":0.78,"hi":2,"d":1},{"lo":2,"hi":3.31,"d":2.5},{"lo":3.31,"hi":4.6,"d":4},{"lo":4.6,"hi":5.87,"d":5},{"lo":5.87,"hi":7.16,"d":6.5},{"lo":7.16,"hi":8.44,"d":8},{"lo":8.44,"hi":9.72,"d":9},{"lo":9.72,"hi":11,"d":10},{"lo":11,"hi":12.28,"d":11.5},{"lo":12.28,"hi":13.56,"d":13},{"lo":13.56,"hi":14.84,"d":14},{"lo":14.84,"hi":16.12,"d":15.5},{"lo":16.12,"hi":17.4,"d":17},{"lo":17.4,"hi":18.68,"d":18},{"lo":18.68,"hi":20,"d":19},{"lo":20,"hi":21.28,"d":21}]},"layer":[
{"mark":{"type":"rect"},"encoding":{"y":{"field":"lo","type":"quantitative","scale":{"domain":[0.78,21.28],"nice":false,"zero":false},"axis":{"orient":"right","values":[5,10,15,20],"tickSize":8,"labelFontSize":45,"labelPadding":3,"title":null}},"y2":{"field":"hi"},"color":{"field":"d","type":"quantitative","legend":null,"scale":{"type":"threshold","domain":[2,3.31,4.6,5.87,7.16,8.44,9.72,11,12.28,13.56,14.84,16.12,17.4,18.68,20],"range":["#ff0000","#ff2200","#ff4500","#ff6600","#ff8c00","#ffa500","#a9c080","#a0ba87","#95b18e","#8aa994","#80a19c","#789ba2","#6f95a9","#658db2","#5a86bb","#0000ff"]}}}},
{"data":{"values":[{"frame":1}]},"mark":{"type":"rect","fill":null,"stroke":"black","strokeWidth":5,"clip":false},"encoding":{}}
]}
]}
